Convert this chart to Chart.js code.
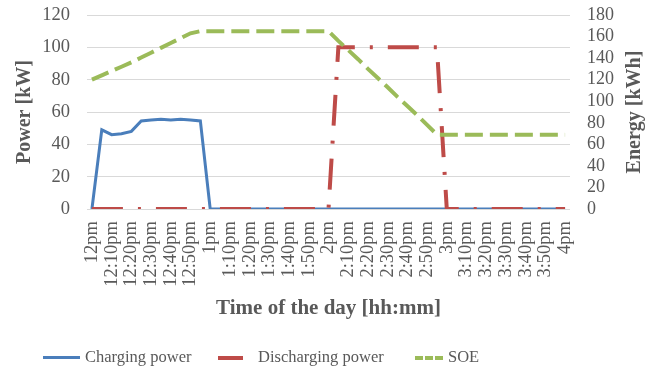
<!DOCTYPE html>
<html>
<head>
<meta charset="utf-8">
<script src="https://cdn.jsdelivr.net/npm/chart.js@4.4.1/dist/chart.umd.min.js"></script>
<style>
  body { margin: 0; background: #fff; }
  #wrap { position: relative; width: 659px; height: 373px; }
  #legend { position: absolute; left: 0; top: 345px; width: 659px; height: 24px;
    font-family: "Liberation Serif", serif; font-size: 16.5px; color: #595959; }
  .item { position: absolute; top: 0; line-height: 24px; white-space: nowrap; }
  .swatch { position: absolute; top: 11px; }
</style>
</head>
<body>
<div id="wrap">
  <canvas id="chart" width="659" height="373"></canvas>
  <div id="legend">
    <div class="swatch" style="left:43px;width:37px;height:3px;background:#4A7EBB"></div>
    <div class="item" style="left:85px">Charging power</div>
    <div class="swatch" style="left:218px;width:25px;height:4px;background:#BE4B48"></div>
    <div class="item" style="left:258px">Discharging power</div>
    <div class="swatch" style="left:415px;width:28px;height:4px;background:repeating-linear-gradient(90deg,#9BBB59 0 8px,transparent 8px 10px)"></div>
    <div class="item" style="left:448px">SOE</div>
  </div>
</div>
<script>
const timeLabels = ['12pm', '12:05pm', '12:10pm', '12:15pm', '12:20pm', '12:25pm', '12:30pm', '12:35pm', '12:40pm', '12:45pm', '12:50pm', '12:55pm',
    '1pm', '1:05pm', '1:10pm', '1:15pm', '1:20pm', '1:25pm', '1:30pm', '1:35pm', '1:40pm', '1:45pm', '1:50pm', '1:55pm',
    '2pm', '2:05pm', '2:10pm', '2:15pm', '2:20pm', '2:25pm', '2:30pm', '2:35pm', '2:40pm', '2:45pm', '2:50pm', '2:55pm',
    '3pm', '3:05pm', '3:10pm', '3:15pm', '3:20pm', '3:25pm', '3:30pm', '3:35pm', '3:40pm', '3:45pm', '3:50pm', '3:55pm',
    '4pm']

// kW
const chargingPower = [0, 49, 46, 46.5, 48, 54.5, 55, 55.5, 55, 55.5, 55, 54.5,
    0, 0, 0, 0, 0, 0, 0, 0, 0, 0, 0, 0,
    0, 0, 0, 0, 0, 0, 0, 0, 0, 0, 0, 0,
    0, 0, 0, 0, 0, 0, 0, 0, 0, 0, 0, 0,
    0]
const dischargingPower = [0, 0, 0, 0, 0, 0, 0, 0, 0, 0, 0, 0,
    0, 0, 0, 0, 0, 0, 0, 0, 0, 0, 0, 0,
    0, 100, 100, 100, 100, 100, 100, 100, 100, 100, 100, 100,
    0, 0, 0, 0, 0, 0, 0, 0, 0, 0, 0, 0,
    0]
// kWh
const soe = [120, 124, 128, 132, 136, 140.5, 145, 149.5, 154, 158.5, 163, 165,
    165, 165, 165, 165, 165, 165, 165, 165, 165, 165, 165, 165,
    165, 156, 147.5, 139, 130, 121.5, 113, 104, 95.5, 87, 78, 69,
    69, 69, 69, 69, 69, 69, 69, 69, 69, 69, 69, 69,
    69]

const textColor = '#595959'
const serif = '"Liberation Serif", "Times New Roman", serif'

// right axis title reads bottom-to-top like the left one
const rightTitle = {
    id: 'rightTitle',
    afterDraw(chart) {
        const ctx = chart.ctx
        const s = chart.scales.y1
        ctx.save()
        ctx.translate(s.right - 24, (chart.chartArea.top + chart.chartArea.bottom) / 2)
        ctx.rotate(-Math.PI / 2)
        ctx.font = 'bold 20px ' + serif
        ctx.fillStyle = textColor
        ctx.textAlign = 'center'
        ctx.textBaseline = 'middle'
        ctx.fillText('Energy [kWh]', 0, 0)
        ctx.restore()
    }
}

function fixWidth(w) {
    return s => {
        s.width = w
        s.paddingTop = 0
        s.paddingBottom = 0
    }
}

new Chart(document.getElementById('chart'), {
    type: 'line',
    data: {
        labels: timeLabels,
        datasets: [{
            label: 'Charging power',
            data: chargingPower,
            borderColor: '#4A7EBB',
            borderWidth: 3,
            yAxisID: 'y',
            order: 2
        }, {
            label: 'Discharging power',
            data: dischargingPower,
            borderColor: '#BE4B48',
            borderWidth: 4,
            borderDash: [31, 15, 3, 15],
            yAxisID: 'y',
            order: 1
        }, {
            label: 'SOE',
            data: soe,
            borderColor: '#9BBB59',
            borderWidth: 4,
            borderDash: [18, 7],
            yAxisID: 'y1',
            order: 0
        }]
    },
    options: {
        responsive: false,
        animation: false,
        layout: { padding: { top: 15, left: 0, right: 0, bottom: 0 } },
        elements: {
            point: { radius: 0 },
            line: { tension: 0, borderCapStyle: 'butt', borderJoinStyle: 'miter' }
        },
        plugins: {
            legend: { display: false },
            tooltip: { enabled: false }
        },
        scales: {
            x: {
                offset: true,
                grid: { display: false, drawTicks: false },
                border: { display: false },
                ticks: {
                    autoSkip: false,
                    maxRotation: 90,
                    minRotation: 90,
                    padding: 12,
                    color: textColor,
                    font: { family: serif, size: 18.5 },
                    callback: function (value, index) {
                        return index % 2 === 0 ? this.getLabelForValue(value) : ''
                    }
                },
                title: {
                    display: true,
                    text: 'Time of the day [hh:mm]',
                    color: textColor,
                    font: { family: serif, size: 21, weight: 'bold' },
                    padding: { top: 0, bottom: 52 }
                },
                afterFit: s => {
                    s.height = 164
                    s.paddingLeft = 0
                    s.paddingRight = 0
                }
            },
            y: {
                position: 'left',
                min: 0,
                max: 120,
                ticks: { stepSize: 20, autoSkip: false, padding: 17, color: textColor, font: { family: serif, size: 18.5 } },
                grid: { color: '#D9D9D9', drawTicks: false },
                border: { display: false },
                title: {
                    display: true,
                    text: 'Power [kW]',
                    color: textColor,
                    font: { family: serif, size: 20, weight: 'bold' },
                    padding: { top: 13, bottom: 0 }
                },
                afterFit: fixWidth(87)
            },
            y1: {
                position: 'right',
                min: 0,
                max: 180,
                ticks: { stepSize: 20, autoSkip: false, padding: 17, color: textColor, font: { family: serif, size: 18 } },
                grid: { display: false, drawTicks: false },
                border: { display: false },
                afterFit: fixWidth(89)
            }
        }
    },
    plugins: [rightTitle]
})
</script>
</body>
</html>
